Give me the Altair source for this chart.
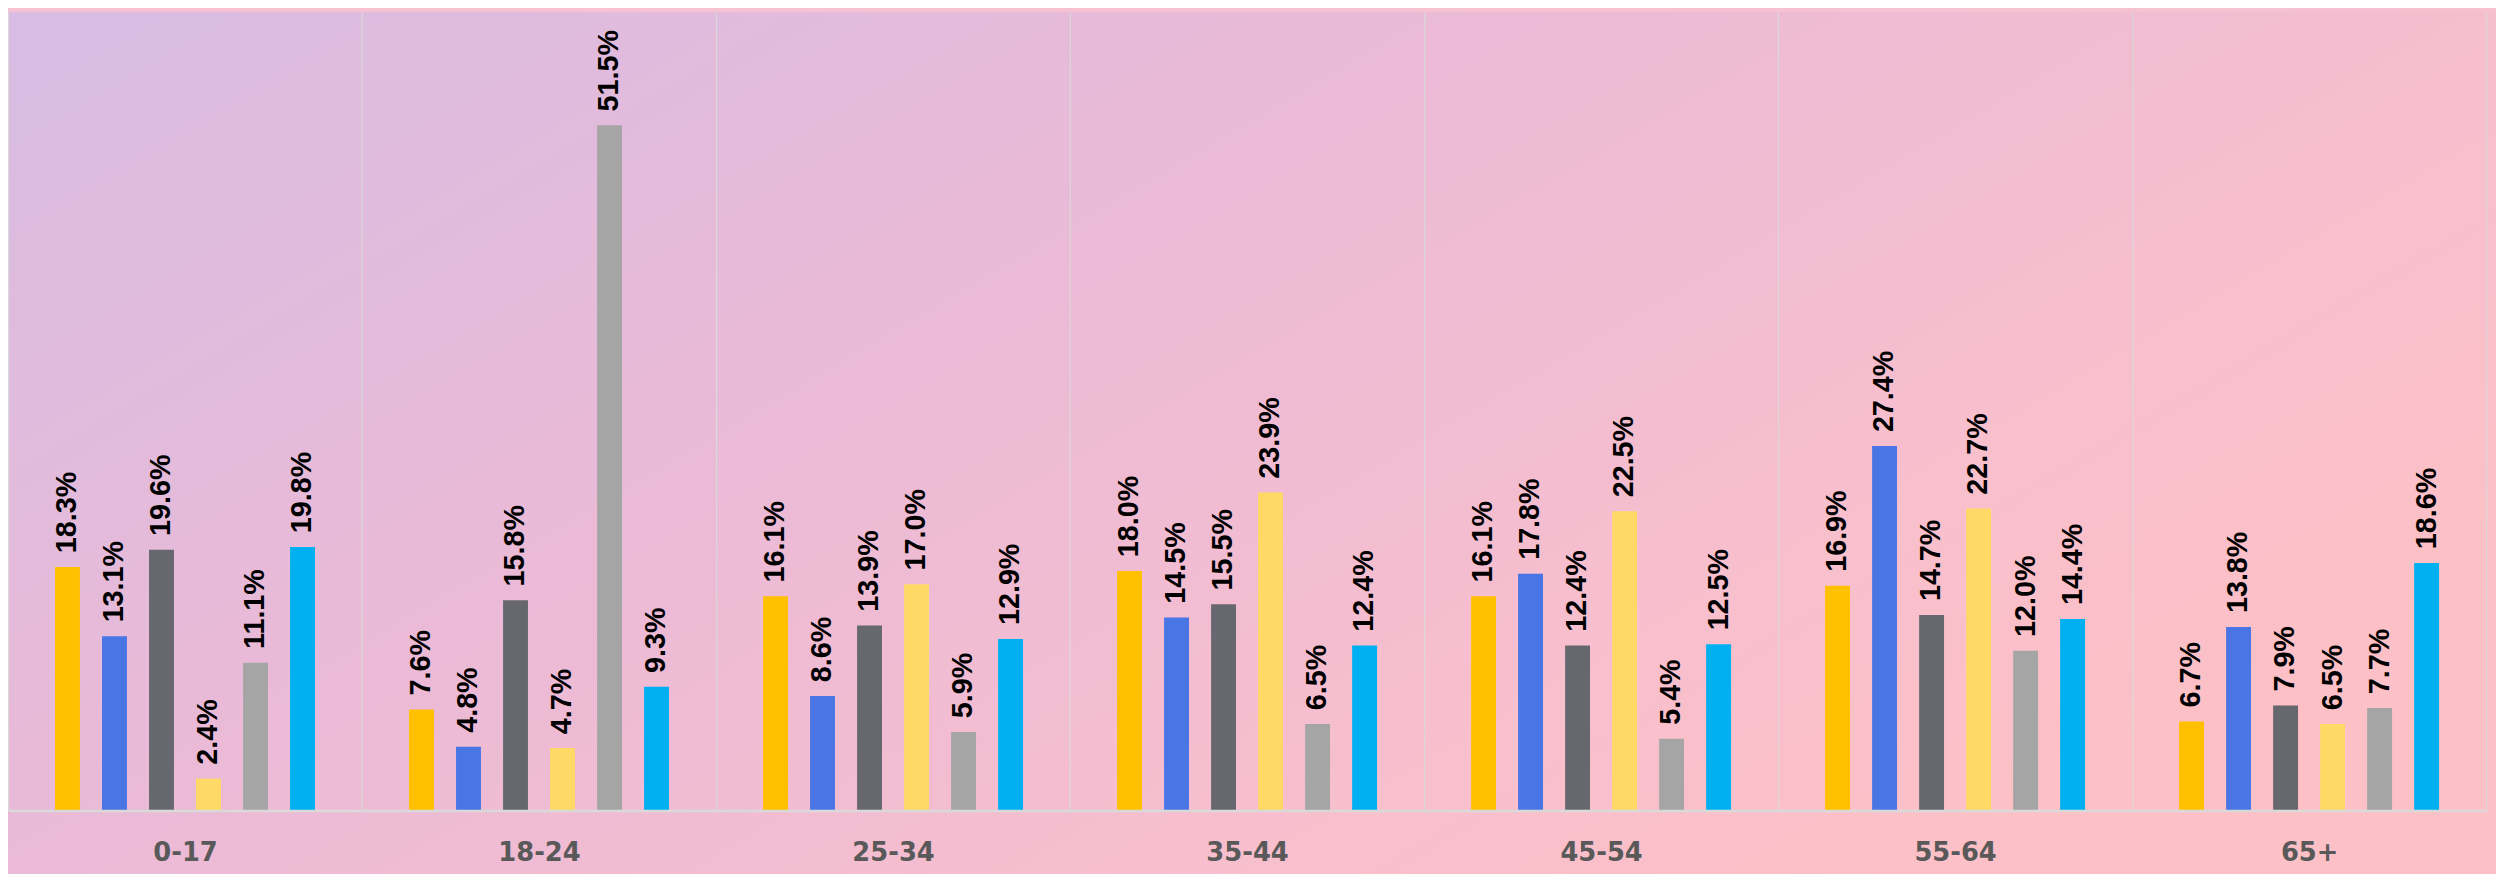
import altair as alt
import pandas as pd

# ---- data ----
age_groups = ["0-17", "18-24", "25-34", "35-44", "45-54", "55-64", "65+"]
series_names = ["Series 1", "Series 2", "Series 3", "Series 4", "Series 5", "Series 6"]
series_colors = ["#FFC000", "#4A75E5", "#67686F", "#FFD966", "#A5A5A5", "#00B0F0"]

s1 = [18.3, 7.6, 16.1, 18.0, 16.1, 16.9, 6.7]
s2 = [13.1, 4.8, 8.6, 14.5, 17.8, 27.4, 13.8]
s3 = [19.6, 15.8, 13.9, 15.5, 12.4, 14.7, 7.9]
s4 = [2.4, 4.7, 17.0, 23.9, 22.5, 22.7, 6.5]
s5 = [11.1, 51.5, 5.9, 6.5, 5.4, 12.0, 7.7]
s6 = [19.8, 9.3, 12.9, 12.4, 12.5, 14.4, 18.6]

series_values = [s1, s2, s3, s4, s5, s6]

rows = []
for name, vals in zip(series_names, series_values):
    for age, v in zip(age_groups, vals):
        rows.append({"age": age, "series": name, "value": v, "label": f"{v:.1f}%"})
df = pd.DataFrame(rows)

W = 2502
H = 806

x_enc = alt.X(
    "age:N",
    sort=age_groups,
    title=None,
    scale=alt.Scale(paddingInner=0, paddingOuter=0),
    axis=alt.Axis(
        zindex=1,
        labelAngle=0,
        labelFont="DejaVu Sans",
        labelFontWeight="bold",
        labelFontSize=26,
        labelColor="#595959",
        labelPadding=29,
        ticks=False,
        tickSize=0,
        tickBand="extent",
        grid=True,
        gridColor="#D9D9D9",
        gridWidth=1.2,
        domain=True,
        domainColor="#D9D9D9",
        domainWidth=2.5,
    ),
)
xoff_enc = alt.XOffset(
    "series:N",
    sort=series_names,
    scale=alt.Scale(paddingInner=0.47, paddingOuter={"expr": "1.16"}),
)
y_enc = alt.Y("value:Q", scale=alt.Scale(domain=[0, 60]), axis=None)

bg = alt.Chart(alt.Data(values=[{"a": 1}])).mark_rect(
    color=alt.Gradient(
        gradient="linear",
        stops=[
            alt.GradientStop(color="#D8BCE3", offset=0),
            alt.GradientStop(color="#EBBAD6", offset=0.45),
            alt.GradientStop(color="#F8BFCD", offset=0.8),
            alt.GradientStop(color="#FCC0C6", offset=1),
        ],
        x1=0, y1=0, x2=1, y2=0.6,
    )
).encode(
    x=alt.value(0), x2=alt.value(W + 10), y=alt.value(0), y2=alt.value(H + 80)
)

base = alt.Chart(df).encode(x=x_enc, xOffset=xoff_enc, y=y_enc)

bars = base.mark_bar().encode(
    color=alt.Color(
        "series:N",
        scale=alt.Scale(domain=series_names, range=series_colors),
        legend=None,
    )
)

labels = base.mark_text(
    angle=270,
    align="left",
    baseline="middle",
    dx=14,
    font="Liberation Sans",
    fontWeight="bold",
    fontSize=29,
    color="#000000",
).encode(text="label:N")

chart = (
    alt.layer(bg, bars, labels)
    .properties(width=W, height=H, padding=0, background="#F6C1D0")
    .configure_view(stroke=None)
)

chart.save("out.html", embed_options={"renderer": "svg", "actions": False})
